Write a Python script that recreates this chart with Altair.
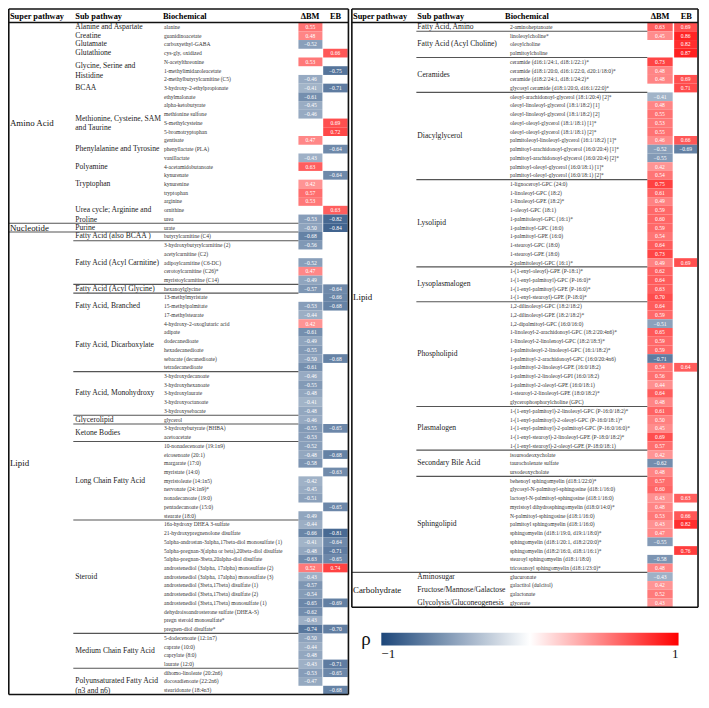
import altair as alt
import pandas as pd

# ---------------- data: left table ----------------
left_super_names = ["Amino Acid", "Nucleotide", "Lipid"]
left_super_sizes = [23, 1, 53]
left_sub_names = [
    "Alanine and Aspartate", "Creatine", "Glutamate", "Glutathione",
    "Glycine, Serine and\nHistidine", "BCAA", "Methionine, Cysteine, SAM\nand Taurine",
    "Phenylalanine and Tyrosine", "Polyamine", "Tryptophan",
    "Urea cycle; Arginine and\nProline",
    "Purine",
    "Fatty Acid  (also BCAA )", "Fatty Acid (Acyl Carnitine)", "Fatty Acid (Acyl Glycine)",
    "Fatty Acid, Branched", "Fatty Acid, Dicarboxylate", "Fatty Acid, Monohydroxy",
    "Glycerolipid", "Ketone Bodies", "Long Chain Fatty Acid", "Steroid",
    "Medium Chain Fatty Acid", "Polyunsaturated Fatty Acid\n(n3 and n6)",
]
left_sub_sizes = [1, 1, 1, 1, 2, 3, 4, 3, 1, 3, 3, 1, 1, 5, 1, 3, 6, 5, 1, 2, 9, 13, 4, 3]
left_biochemicals = [
    "alanine", "guanidinoacetate", "carboxyethyl-GABA", "cys-gly, oxidized",
    "N-acetylthreonine", "1-methylimidazoleacetate", "2-methylbutyrylcarnitine (C5)",
    "3-hydroxy-2-ethylpropionate", "ethylmalonate", "alpha-ketobutyrate",
    "methionine sulfone", "S-methylcysteine", "5-bromotryptophan", "gentisate",
    "phenyllactate (PLA)", "vanillactate", "4-acetamidobutanoate", "kynurenate",
    "kynurenine", "tryptophan", "arginine", "ornithine", "urea",
    "urate",
    "butyrylcarnitine (C4)", "3-hydroxybutyrylcarnitine (2)", "acetylcarnitine (C2)",
    "adipoylcarnitine (C6-DC)", "cerotoylcarnitine (C26)*", "myristoylcarnitine (C14)",
    "hexanoylglycine", "13-methylmyristate", "15-methylpalmitate", "17-methylstearate",
    "4-hydroxy-2-oxoglutaric acid", "adipate", "dodecanedioate", "hexadecanedioate",
    "sebacate (decanedioate)", "tetradecanedioate", "3-hydroxydecanoate",
    "3-hydroxyhexanoate", "3-hydroxylaurate", "3-hydroxyoctanoate", "3-hydroxysebacate",
    "glycerol", "3-hydroxybutyrate (BHBA)", "acetoacetate", "10-nonadecenoate (19:1n9)",
    "eicosenoate (20:1)", "margarate (17:0)", "myristate (14:0)", "myristoleate (14:1n5)",
    "nervonate (24:1n9)*", "nonadecanoate (19:0)", "pentadecanoate (15:0)", "stearate (18:0)",
    "16a-hydroxy DHEA 3-sulfate", "21-hydroxypregnenolone disulfate",
    "5alpha-androstan-3alpha,17beta-diol monosulfate (1)",
    "5alpha-pregnan-3(alpha or beta),20beta-diol disulfate",
    "5alpha-pregnan-3beta,20alpha-diol disulfate",
    "androstenediol (3alpha, 17alpha) monosulfate (2)",
    "androstenediol (3alpha, 17alpha) monosulfate (3)",
    "androstenediol (3beta,17beta) disulfate (1)",
    "androstenediol (3beta,17beta) disulfate (2)",
    "androstenediol (3beta,17beta) monosulfate (1)",
    "dehydroisoandrosterone sulfate (DHEA-S)", "pregn steroid monosulfate*",
    "pregnen-diol disulfate*", "5-dodecenoate (12:1n7)", "caprate (10:0)", "caprylate (8:0)",
    "laurate (12:0)", "dihomo-linoleate (20:2n6)", "docosadienoate (22:2n6)",
    "stearidonate (18:4n3)",
]
left_dbm = [
    0.55, 0.48, -0.52, None, 0.53, None, -0.46, -0.41, -0.61, -0.45, -0.46, None, None, 0.47,
    None, -0.43, 0.63, None, 0.42, 0.57, 0.53, None, -0.53,
    -0.50,
    -0.68, -0.56, None, -0.52, 0.47, -0.49, -0.57, None, -0.53, -0.44, 0.42, -0.61, -0.49,
    -0.55, -0.50, -0.61, -0.46, -0.55, -0.48, -0.41, -0.48, -0.46, -0.55, -0.53, -0.52,
    -0.48, -0.58, None, -0.42, -0.45, -0.51, None, -0.49, -0.44, -0.66, -0.41, -0.48, -0.63,
    0.52, -0.43, -0.57, -0.54, -0.65, -0.62, -0.43, -0.74, -0.50, -0.44, -0.48, -0.43,
    -0.53, -0.47, None,
]
left_eb = [
    None, None, None, 0.66, None, -0.75, None, -0.71, None, None, None, 0.69, 0.72, None,
    -0.64, None, None, -0.64, None, None, None, 0.63, -0.82,
    -0.84,
    None, None, None, None, None, None, -0.64, -0.66, -0.68, None, None, None, None,
    None, -0.68, None, None, None, None, None, None, None, -0.65, None, None,
    -0.68, None, -0.63, None, None, None, -0.65, None, None, -0.81, -0.64, -0.71, -0.65,
    0.74, None, None, None, -0.69, None, None, -0.70, None, None, None, -0.71,
    -0.65, None, -0.68,
]

# ---------------- data: right table ----------------
right_super_names = ["Lipid", "Carbohydrate"]
right_super_sizes = [63, 4]
right_sub_names = [
    "Fatty Acid, Amino", "Fatty Acid  (Acyl Choline)", "Ceramides", "Diacylglycerol",
    "Lysolipid", "Lysoplasmalogen", "Phospholipid", "Plasmalogen", "Secondary Bile Acid",
    "Sphingolipid", "Aminosugar", "Fructose/Mannose/Galactose", "Glycolysis/Gluconeogenesis",
]
right_sub_sizes = [1, 3, 4, 10, 10, 4, 12, 5, 3, 11, 1, 2, 1]
right_biochemicals = [
    "2-aminoheptanoate", "linoleoylcholine*", "oleoylcholine", "palmitoylcholine",
    "ceramide (d16:1/24:1, d18:1/22:1)*", "ceramide (d18:1/20:0, d16:1/22:0, d20:1/18:0)*",
    "ceramide (d18:2/24:1, d18:1/24:2)*", "glycosyl ceramide (d18:1/20:0, d16:1/22:0)*",
    "oleoyl-arachidonoyl-glycerol (18:1/20:4) [2]*", "oleoyl-linoleoyl-glycerol (18:1/18:2) [1]",
    "oleoyl-linoleoyl-glycerol (18:1/18:2) [2]", "oleoyl-oleoyl-glycerol (18:1/18:1)  [1]*",
    "oleoyl-oleoyl-glycerol (18:1/18:1) [2]*", "palmitoleoyl-linoleoyl-glycerol (16:1/18:2) [1]*",
    "palmitoyl-arachidonoyl-glycerol (16:0/20:4) [1]*", "palmitoyl-arachidonoyl-glycerol (16:0/20:4) [2]*",
    "palmitoyl-oleoyl-glycerol (16:0/18:1) [1]*", "palmitoyl-oleoyl-glycerol (16:0/18:1) [2]*",
    "1-lignoceroyl-GPC (24:0)", "1-linoleoyl-GPC (18:2)", "1-linoleoyl-GPE (18:2)*",
    "1-oleoyl-GPC (18:1)", "1-palmitoleoyl-GPC (16:1)*", "1-palmitoyl-GPC (16:0)",
    "1-palmitoyl-GPE (16:0)", "1-stearoyl-GPC (18:0)", "1-stearoyl-GPE (18:0)",
    "2-palmitoleoyl-GPC (16:1)*", "1-(1-enyl-oleoyl)-GPE (P-18:1)*",
    "1-(1-enyl-palmitoyl)-GPC (P-16:0)*", "1-(1-enyl-palmitoyl)-GPE (P-16:0)*",
    "1-(1-enyl-stearoyl)-GPE (P-18:0)*", "1,2-dilinoleoyl-GPC (18:2/18:2)",
    "1,2-dilinoleoyl-GPE (18:2/18:2)*", "1,2-dipalmitoyl-GPC (16:0/16:0)",
    "1-linoleoyl-2-arachidonoyl-GPC (18:2/20:4n6)*", "1-linoleoyl-2-linolenoyl-GPC (18:2/18:3)*",
    "1-palmitoleoyl-2-linoleoyl-GPC (16:1/18:2)*", "1-palmitoyl-2-arachidonoyl-GPC (16:0/20:4n6)",
    "1-palmitoyl-2-linoleoyl-GPE (16:0/18:2)", "1-palmitoyl-2-linoleoyl-GPI (16:0/18:2)",
    "1-palmitoyl-2-oleoyl-GPE (16:0/18:1)", "1-stearoyl-2-linoleoyl-GPE (18:0/18:2)*",
    "glycerophosphorylcholine (GPC)",
    "1-(1-enyl-palmitoyl)-2-linoleoyl-GPC (P-16:0/18:2)*",
    "1-(1-enyl-palmitoyl)-2-oleoyl-GPC (P-16:0/18:1)*",
    "1-(1-enyl-palmitoyl)-2-palmitoyl-GPC (P-16:0/16:0)*",
    "1-(1-enyl-stearoyl)-2-linoleoyl-GPE (P-18:0/18:2)*",
    "1-(1-enyl-stearoyl)-2-oleoyl-GPE (P-18:0/18:1)",
    "isoursodeoxycholate", "taurocholenate sulfate", "ursodeoxycholate",
    "behenoyl sphingomyelin (d18:1/22:0)*", "glycosyl-N-palmitoyl-sphingosine (d18:1/16:0)",
    "lactosyl-N-palmitoyl-sphingosine (d18:1/16:0)", "myristoyl dihydrosphingomyelin (d18:0/14:0)*",
    "N-palmitoyl-sphingosine (d18:1/16:0)", "palmitoyl sphingomyelin (d18:1/16:0)",
    "sphingomyelin (d18:1/19:0, d19:1/18:0)*", "sphingomyelin (d18:1/20:1, d18:2/20:0)*",
    "sphingomyelin (d18:2/16:0, d18:1/16:1)*", "stearoyl sphingomyelin (d18:1/18:0)",
    "tricosanoyl sphingomyelin (d18:1/23:0)*",
    "glucuronate", "galactitol (dulcitol)", "galactonate", "glycerate",
]
right_dbm = [
    0.63, 0.45, None, None, 0.73, 0.48, 0.48, None,
    -0.41, 0.48, 0.55, 0.53, 0.55, 0.46, -0.52, -0.55, 0.42, 0.54,
    0.75, 0.61, 0.49, 0.59, 0.60, 0.59, 0.54, 0.64, 0.73, 0.49,
    0.62, 0.64, 0.63, 0.70,
    0.64, 0.59, -0.51, 0.65, 0.59, 0.59, -0.71, 0.54, 0.56, 0.44, 0.64, 0.48,
    0.61, 0.50, 0.45, 0.69, 0.57,
    0.42, -0.62, 0.48,
    0.57, 0.60, 0.43, 0.48, 0.53, 0.43, 0.47, -0.55, None, -0.58, 0.48,
    -0.43, 0.42, 0.52, 0.43,
]
right_eb = [
    0.69, 0.86, 0.82, 0.87, None, None, 0.69, 0.71,
    None, None, None, None, None, 0.66, -0.69, None, None, None,
    None, None, None, None, None, None, None, None, None, 0.69,
    None, None, None, None,
    None, None, None, None, None, None, None, 0.64, None, None, None, None,
    None, None, None, None, None,
    None, None, None,
    None, None, 0.63, None, 0.66, 0.82, None, None, 0.76, None, None,
    None, None, None, None,
]

# sub pathways inside which separators are drawn / exceptions
RULED_SUPER = {"Lipid"}
NO_RULE_AFTER = {"Fatty Acid, Branched"}

# ---------------- layout (reference pixel units) ----------------
REF_W, REF_H = 709, 708
W, H = 691, 688
ROW_H, HEAD_B = 8.98, 15.0


def ref_row(py):
    return (py - HEAD_B) / ROW_H + 0.5


LAYOUT = {
    "L": dict(x0=0.8, x1=349.3, sup=2, sub=69, bio=160, bio_head=159, subline=67,
              dbm=(298, 322.6), eb=(323.4, 348.5), dbm_c=310, eb_c=336),
    "R": dict(x0=352.8, x1=708, sup=354, sub=420, bio=515, bio_head=510, subline=419,
              dbm=(656, 682), eb=(683.5, 707), dbm_c=669, eb_c=696),
}

tables = {
    "L": (left_super_names, left_super_sizes, left_sub_names, left_sub_sizes,
          left_biochemicals, left_dbm, left_eb),
    "R": (right_super_names, right_super_sizes, right_sub_names, right_sub_sizes,
          right_biochemicals, right_dbm, right_eb),
}

bio_rows, cell_rows, sub_rows, sup_rows, head_l, head_c = [], [], [], [], [], []
sep_rows, border_h, border_v = [], [], []
top_row = ref_row(1.0)

for t, (snames, ssizes, subn, subs, bios, dbm, eb) in tables.items():
    L = LAYOUT[t]
    n = len(bios)
    for i, b in enumerate(bios):
        r = i + 1
        bio_rows.append(dict(row=r, x=L["bio"], text=b))
        for col, vals in (("dbm", dbm), ("eb", eb)):
            v = vals[i]
            if v is not None:
                a, bb = L[col]
                cell_rows.append(dict(row=r, y0=r - 0.5, y1=r + 0.5, x0=a, x1=bb,
                                      xc=(a + bb) / 2, value=v))
    # super pathways
    start = 1
    super_of_row = {}
    for nm, sz in zip(snames, ssizes):
        sup_rows.append(dict(row=start + (sz - 1) / 2, x=L["sup"], text=nm))
        for r in range(start, start + sz):
            super_of_row[r] = nm
        end = start + sz - 1
        if end < n:
            sep_rows.append(dict(y=end + 0.5, x0=L["x0"], x1=L["dbm"][0]))
        start = end + 1
    # sub pathways
    start = 1
    for nm, sz in zip(subn, subs):
        sub_rows.append(dict(row=start + (sz - 1) / 2, x=L["sub"], text=nm))
        end = start + sz - 1
        sp = super_of_row[start]
        if (end < n and sp in RULED_SUPER and super_of_row.get(end + 1) == sp
                and nm not in NO_RULE_AFTER):
            sep_rows.append(dict(y=end + 0.5, x0=L["subline"], x1=L["dbm"][0]))
        start = end + 1
    # header
    hr = ref_row(8.0)
    head_l += [dict(row=hr, x=L["sup"], text="Super pathway"),
               dict(row=hr, x=L["sub"], text="Sub pathway"),
               dict(row=hr, x=L["bio_head"], text="Biochemical")]
    head_c += [dict(row=hr, x=L["dbm_c"], text="ΔBM"), dict(row=hr, x=L["eb_c"], text="EB")]
    # borders
    border_h += [dict(y=top_row, x0=L["x0"], x1=L["x1"]),
                 dict(y=0.5, x0=L["x0"], x1=L["x1"]),
                 dict(y=n + 0.5, x0=L["x0"], x1=L["x1"])]
    border_v += [dict(x=L["x0"], y0=top_row, y1=n + 0.5),
                 dict(x=L["x1"], y0=top_row, y1=n + 0.5)]

FONT = "Liberation Serif"
NAVY = "#1d477a"
xs = alt.Scale(domain=[0, REF_W], nice=False, zero=False)
ys = alt.Scale(domain=[ref_row(0), ref_row(REF_H)], nice=False, zero=False, reverse=True)

sx = W / REF_W
sy = H / REF_H

color = alt.Color(
    "value:Q",
    scale=alt.Scale(domain=[-1, 0, 1], range=[NAVY, "#ffffff", "#ff0000"],
                    interpolate="rgb"),
    legend=alt.Legend(
        orient="none", direction="horizontal",
        legendX=382 * sx - 19, legendY=643 * sy,
        gradientLength=305 * sx, gradientThickness=13 * sy, gradientStrokeWidth=0,
        title="ρ", titleOrient="left", titleFont=FONT, titleFontSize=19,
        titleFontWeight="normal", titleColor="#111", titlePadding=10, titleBaseline="middle",
        values=[-1, 1], format="d", labelFont=FONT, labelFontSize=13, labelColor="#111",
        labelOffset=3, padding=0,
    ),
)

cells = alt.Chart(pd.DataFrame(cell_rows)).mark_rect().encode(
    x=alt.X("x0:Q", scale=xs, axis=None), x2="x1:Q",
    y=alt.Y("y0:Q", scale=ys, axis=None), y2="y1:Q",
    color=color,
)
cell_text = alt.Chart(pd.DataFrame(cell_rows)).mark_text(
    font=FONT, fontSize=5.6, color="white", baseline="middle", align="center"
).encode(
    x=alt.X("xc:Q", scale=xs, axis=None),
    y=alt.Y("row:Q", scale=ys, axis=None),
    text=alt.Text("value:Q", format=".2f"),
)


def text_layer(rows, size, color_, align="left", weight="normal", line_break=False):
    kw = dict(font=FONT, fontSize=size, color=color_, baseline="middle", align=align,
              fontWeight=weight)
    if line_break:
        kw.update(lineBreak="\n", lineHeight=size * 1.25)
    return alt.Chart(pd.DataFrame(rows)).mark_text(**kw).encode(
        x=alt.X("x:Q", scale=xs, axis=None),
        y=alt.Y("row:Q", scale=ys, axis=None),
        text="text:N",
    )


bio_text = text_layer(bio_rows, 5.55, "#333333")
sub_text = text_layer(sub_rows, 7.6, "#222222", line_break=True)
sup_text = text_layer(sup_rows, 8.9, "#111111")
head_left = text_layer(head_l, 8.4, "#000000", weight="bold")
head_center = text_layer(head_c, 8.4, "#000000", align="center", weight="bold")

seps = alt.Chart(pd.DataFrame(sep_rows)).mark_rule(color="#555555", strokeWidth=1.1).encode(
    x=alt.X("x0:Q", scale=xs, axis=None), x2="x1:Q",
    y=alt.Y("y:Q", scale=ys, axis=None),
)
bord_h = alt.Chart(pd.DataFrame(border_h)).mark_rule(color="#111111", strokeWidth=1.5).encode(
    x=alt.X("x0:Q", scale=xs, axis=None), x2="x1:Q",
    y=alt.Y("y:Q", scale=ys, axis=None),
)
bord_v = alt.Chart(pd.DataFrame(border_v)).mark_rule(color="#111111", strokeWidth=1.6).encode(
    x=alt.X("x:Q", scale=xs, axis=None),
    y=alt.Y("y0:Q", scale=ys, axis=None), y2="y1:Q",
)

chart = alt.layer(
    cells, cell_text, bio_text, sub_text, sup_text, head_left, head_center,
    seps, bord_h, bord_v,
).properties(
    width=W, height=H, padding=0, autosize=alt.AutoSizeParams(type="none"),
    background="white",
).configure_view(stroke=None)

chart.save("out.html", embed_options={"renderer": "svg", "actions": False})
